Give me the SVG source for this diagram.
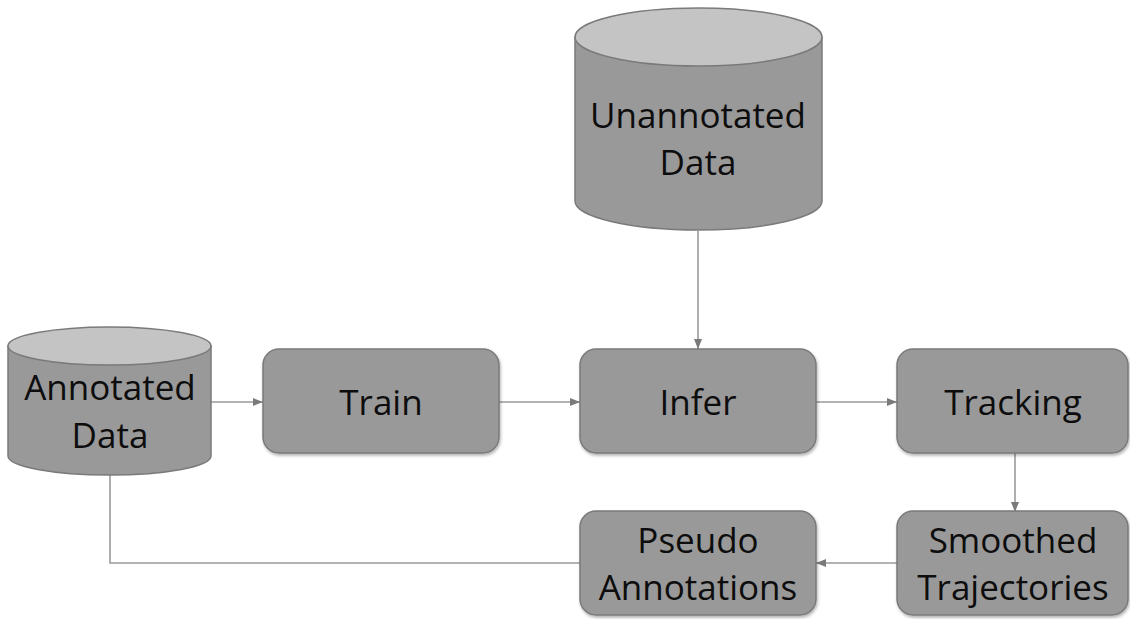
<svg xmlns="http://www.w3.org/2000/svg" width="1130" height="619" viewBox="0 0 1130 619">
<style>
.box{fill:#999999;stroke:#7a7a7a;stroke-width:1.5}
.body{fill:#999999;stroke:#7a7a7a;stroke-width:1.5}
.top{fill:#c4c4c4;stroke:#7a7a7a;stroke-width:1.5}
.lbl{font-family:"Open Sans","Liberation Sans",sans-serif;font-size:35px;fill:#0d0d0d;text-anchor:middle}
.con{fill:none;stroke:#9a9a9a;stroke-width:1.6}
</style>
<defs>
<marker id="arr" viewBox="0 0 10 10" refX="10" refY="5" markerWidth="10" markerHeight="10" markerUnits="userSpaceOnUse" orient="auto">
<path d="M0,1 L10,5 L0,9 Z" fill="#7a7a7a"/>
</marker>
<filter id="sh" x="-10%" y="-10%" width="120%" height="130%">
<feDropShadow dx="1" dy="2" stdDeviation="1.5" flood-color="#000" flood-opacity="0.3"/>
</filter>
</defs>
<g id="connectors">
<line class="con" x1="211" y1="402" x2="263" y2="402" marker-end="url(#arr)"/>
<line class="con" x1="499" y1="402" x2="580" y2="402" marker-end="url(#arr)"/>
<line class="con" x1="816" y1="402" x2="897" y2="402" marker-end="url(#arr)"/>
<line class="con" x1="698" y1="231" x2="698" y2="349" marker-end="url(#arr)"/>
<line class="con" x1="1015" y1="453" x2="1015" y2="512" marker-end="url(#arr)"/>
<line class="con" x1="897" y1="563" x2="816" y2="563" marker-end="url(#arr)"/>
<polyline class="con" points="110,475 110,563 580,563"/>
</g>
<g id="annotated-data">
<path class="body" d="M8,346 L8,456 A101.5,19 0 0 0 211,456 L211,346 Z"/>
<ellipse class="top" cx="109.5" cy="346" rx="101.5" ry="19"/>
<text class="lbl" x="110" y="400">Annotated</text>
<text class="lbl" x="110" y="448">Data</text>
</g>
<g id="unannotated-data">
<path class="body" d="M575,37 L575,201 A123.5,29 0 0 0 822,201 L822,37 Z"/>
<ellipse class="top" cx="698.5" cy="37" rx="123.5" ry="29"/>
<text class="lbl" x="698" y="128">Unannotated</text>
<text class="lbl" x="698" y="175">Data</text>
</g>
<g id="train">
<rect class="box" filter="url(#sh)" x="263" y="349" width="236" height="104" rx="16"/>
<text class="lbl" x="381" y="415">Train</text>
</g>
<g id="infer">
<rect class="box" filter="url(#sh)" x="580" y="349" width="236" height="104" rx="16"/>
<text class="lbl" x="698" y="415">Infer</text>
</g>
<g id="tracking">
<rect class="box" filter="url(#sh)" x="897" y="349" width="231" height="104" rx="16"/>
<text class="lbl" x="1013" y="415">Tracking</text>
</g>
<g id="smoothed-trajectories">
<rect class="box" filter="url(#sh)" x="897" y="511" width="231" height="104" rx="16"/>
<text class="lbl" x="1013" y="553">Smoothed</text>
<text class="lbl" x="1013" y="600">Trajectories</text>
</g>
<g id="pseudo-annotations">
<rect class="box" filter="url(#sh)" x="580" y="511" width="236" height="104" rx="16"/>
<text class="lbl" x="698" y="553">Pseudo</text>
<text class="lbl" x="698" y="600">Annotations</text>
</g>
</svg>
